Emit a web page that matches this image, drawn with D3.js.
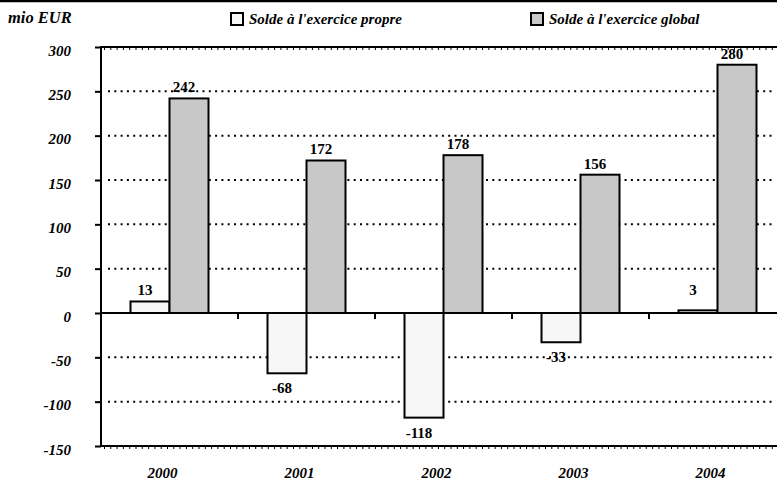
<!DOCTYPE html>
<html>
<head>
<meta charset="utf-8">
<script src="https://cdn.jsdelivr.net/npm/d3@7/dist/d3.min.js"></script>
<style>
  body { margin: 0; background: #fff; }
  svg text { font-family: "Liberation Serif", "Times New Roman", serif; font-weight: bold; }
</style>
</head>
<body>
<div id="chart"></div>
<script>
// data
const years = ["2000", "2001", "2002", "2003", "2004"];
const seriesNames = ["Solde à l'exercice propre", "Solde à l'exercice global"];
const propre = [13, -68, -118, -33, 3];
const global = [242, 172, 178, 156, 280];
const yTicks = [-150, -100, -50, 0, 50, 100, 150, 200, 250, 300];
const unitLabel = "mio EUR";
const colors = ["#f7f7f7", "#c8c8c8"];

const width = 777, height = 487;
let svg = d3.select("#chart").append("svg")
    .attr("width", width)
    .attr("height", height);

svg.append("rect").attr("width", width).attr("height", height).attr("fill", "#fff");

// frame line on top of the picture
svg.append("line")
    .attr("x1", 0).attr("x2", width)
    .attr("y1", 1).attr("y2", 1)
    .attr("stroke", "#000").attr("stroke-width", 2.5);

const y = d3.scaleLinear().domain([-150, 300]).range([446, 47]);
const x = d3.scaleBand().domain(years).range([101, 786]).padding(0);
const xs = d3.scaleBand().domain(seriesNames).range([0, 78]);
const xOff = (x.bandwidth() - 78) / 2;

// dotted grid
const grid = svg.append("g");
grid.selectAll("line.dot")
    .data(yTicks.filter(d => d !== 0 && d !== 300 && d !== -150))
    .enter().append("line")
    .attr("class", "dot")
    .attr("x1", 108).attr("x2", 772)
    .attr("y1", d => y(d)).attr("y2", d => y(d))
    .attr("stroke", "#000").attr("stroke-width", 2)
    .attr("stroke-dasharray", "2,4.3");

// top and bottom borders with little ticks hanging below
[300, -150].forEach(v => {
  grid.append("line")
      .attr("x1", 101).attr("x2", width)
      .attr("y1", y(v)).attr("y2", y(v))
      .attr("stroke", "#000").attr("stroke-width", 2);
  grid.append("line")
      .attr("x1", 104).attr("x2", width)
      .attr("y1", y(v) + 1.5).attr("y2", y(v) + 1.5)
      .attr("stroke", "#000").attr("stroke-width", 3)
      .attr("stroke-dasharray", "1,5.3");
});

// bars
const rows = years.map((yr, i) => ({ year: yr, values: [propre[i], global[i]] }));
const groups = svg.append("g").selectAll("g")
    .data(rows)
    .enter().append("g")
    .attr("transform", d => `translate(${x(d.year) + xOff},0)`);

groups.selectAll("rect")
    .data(d => d.values.map((v, j) => ({ v, name: seriesNames[j], j })))
    .enter().append("rect")
    .attr("x", d => xs(d.name))
    .attr("width", xs.bandwidth())
    .attr("y", d => y(Math.max(0, d.v)))
    .attr("height", d => Math.abs(y(d.v) - y(0)))
    .attr("fill", d => colors[d.j])
    .attr("stroke", "#000").attr("stroke-width", 2);

// value labels
groups.selectAll("text")
    .data(d => d.values.map((v, j) => ({ v, name: seriesNames[j] })))
    .enter().append("text")
    .attr("x", d => xs(d.name) + xs.bandwidth() / 2 - 5)
    .attr("y", d => d.v >= 0 ? y(Math.max(d.v, 14)) - 6 : y(d.v) + 20)
    .attr("text-anchor", "middle")
    .attr("font-size", 15)
    .text(d => d.v);

// zero line and category ticks
svg.append("line")
    .attr("x1", 101).attr("x2", width)
    .attr("y1", y(0)).attr("y2", y(0))
    .attr("stroke", "#000").attr("stroke-width", 2);
svg.append("g").selectAll("line")
    .data(years.slice(0, -1))
    .enter().append("line")
    .attr("x1", d => x(d) + x.bandwidth()).attr("x2", d => x(d) + x.bandwidth())
    .attr("y1", y(0)).attr("y2", y(0) + 6)
    .attr("stroke", "#000").attr("stroke-width", 2);

// y axis
const yAxis = svg.append("g")
    .attr("transform", "translate(101,0)")
    .call(d3.axisLeft(y).tickValues(yTicks).tickSize(6).tickPadding(24)
        .tickFormat(d => String(d)));
yAxis.select(".domain").remove();
yAxis.selectAll(".tick line").attr("stroke", "#000").attr("stroke-width", 2);
yAxis.selectAll(".tick text")
    .attr("font-size", 15)
    .attr("font-style", "italic")
    .attr("dy", "0.55em")
    .attr("fill", "#000");
svg.append("line")
    .attr("x1", 101).attr("x2", 101)
    .attr("y1", y(300) - 1).attr("y2", y(-150) + 1)
    .attr("stroke", "#000").attr("stroke-width", 2);

// x labels (sit a little left of the band centres)
svg.append("g").selectAll("text")
    .data(years)
    .enter().append("text")
    .attr("x", d => x(d) + x.bandwidth() / 2 - 7)
    .attr("y", 478)
    .attr("text-anchor", "middle")
    .attr("font-size", 15)
    .attr("font-style", "italic")
    .text(d => d);

// unit label
svg.append("text")
    .attr("x", 8).attr("y", 23)
    .attr("font-size", 16.5)
    .attr("font-style", "italic")
    .text(unitLabel);

// legend
const legend = svg.append("g").selectAll("g")
    .data(seriesNames)
    .enter().append("g")
    .attr("transform", (d, i) => `translate(${231 + i * 300},13)`);
legend.append("rect")
    .attr("width", 12).attr("height", 12)
    .attr("fill", (d, i) => colors[i])
    .attr("stroke", "#000").attr("stroke-width", 2);
legend.append("text")
    .attr("x", 18).attr("y", 11)
    .attr("font-size", 15)
    .attr("font-style", "italic")
    .text(d => d);
</script>
</body>
</html>
